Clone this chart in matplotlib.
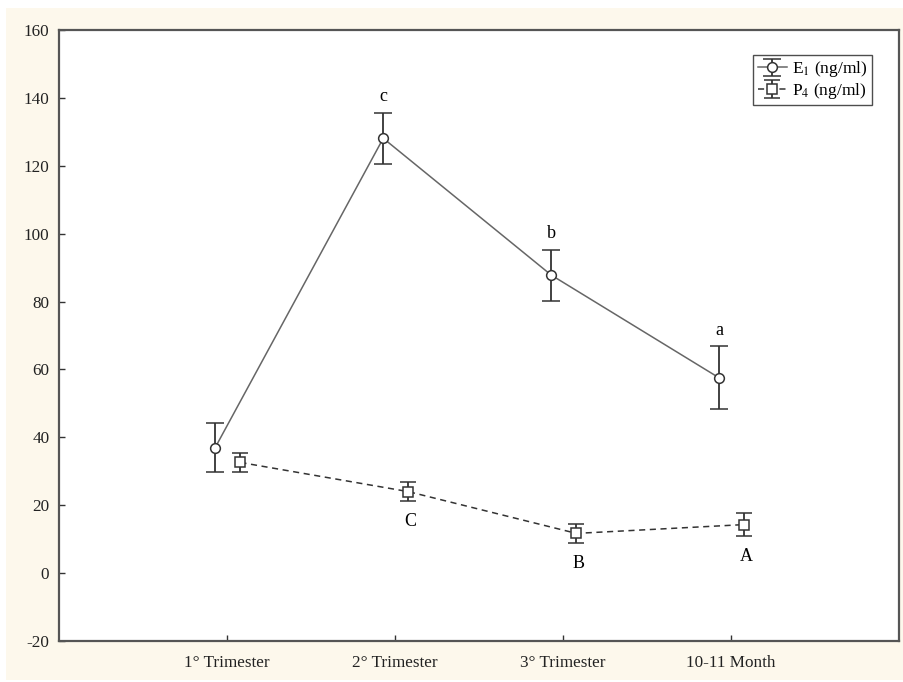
import matplotlib
matplotlib.use("Agg")
import matplotlib.pyplot as plt
from matplotlib.patches import Rectangle
import numpy as np

plt.rcParams['font.family'] = ['Liberation Serif', 'DejaVu Serif']
plt.rcParams['mathtext.fontset'] = 'stix'
plt.rcParams['axes.unicode_minus'] = False

categories = ["1° Trimester", "2° Trimester", "3° Trimester", "10-11 Month"]
e1_mean = [37.0, 128.1, 87.8, 57.5]
e1_err = [7.2, 7.5, 7.5, 9.3]
p4_mean = [32.6, 24.0, 11.7, 14.3]
p4_err = [2.7, 2.7, 2.8, 3.3]
e1_letters = ["", "c", "b", "a"]
p4_letters = ["", "C", "B", "A"]

x = np.arange(1, len(categories) + 1)
x_e1 = x - 0.07
x_p4 = x + 0.08

fig = plt.figure(figsize=(9.04, 6.82), dpi=100)
fig.patch.set_facecolor('white')
# cream panel behind the plot
fig.patches.append(Rectangle((6 / 904, 2 / 682), 1, 1 - 10 / 682,
                             transform=fig.transFigure, facecolor='#fdf8ec',
                             edgecolor='none', zorder=-5))

ax = fig.add_axes([59 / 904, 41 / 682, 840 / 904, 611 / 682])
ax.set_facecolor('white')
ax.set_zorder(2)

e1 = ax.errorbar(x_e1, e1_mean, yerr=e1_err, fmt='-o', color='#666666', lw=1.1,
                 ecolor='#333333', elinewidth=1.3, capsize=6.5, capthick=1.3,
                 markersize=7, markerfacecolor='white', markeredgecolor='#333333',
                 markeredgewidth=1.1, label='E$_1$ (ng/ml)')
p4 = ax.errorbar(x_p4, p4_mean, yerr=p4_err, fmt='--s', color='#333333', lw=1.1,
                 dashes=(4, 3), ecolor='#333333', elinewidth=1.3, capsize=6,
                 capthick=1.3, markersize=6.5, markerfacecolor='white',
                 markeredgecolor='#333333', markeredgewidth=1.1,
                 label='P$_4$ (ng/ml)')

for xi, m, e, t in zip(x_e1, e1_mean, e1_err, e1_letters):
    if t:
        ax.text(xi, m + e + 2.2, t, ha='center', va='bottom', fontsize=13)
for xi, m, e, t in zip(x_p4, p4_mean, p4_err, p4_letters):
    if t:
        ax.text(xi + 0.01, m - e - 3.6, t, ha='center', va='top', fontsize=13)

ax.set_xlim(0, 5)
ax.set_ylim(-20, 160)
ax.set_xticks(x)
ax.set_xticklabels(categories)
ax.set_yticks(np.arange(-20, 161, 20))
ax.tick_params(direction='in', length=4, width=1, colors='#333333',
               labelsize=12.3, labelcolor='#222222')
ax.tick_params(axis='x', pad=10)
ax.tick_params(axis='y', pad=7)
for s in ax.spines.values():
    s.set_color('#555555')
    s.set_linewidth(1.6)

leg = ax.legend(handles=[e1, p4], loc='upper right', bbox_to_anchor=(0.968, 0.959),
                borderaxespad=0, fontsize=12.5, frameon=True, fancybox=False,
                edgecolor='#222222', handlelength=1.7, handletextpad=0.3,
                borderpad=0.25, labelspacing=0.1)
leg.get_frame().set_linewidth(1.0)

fig.savefig("out.png", dpi=100, facecolor=fig.get_facecolor())
